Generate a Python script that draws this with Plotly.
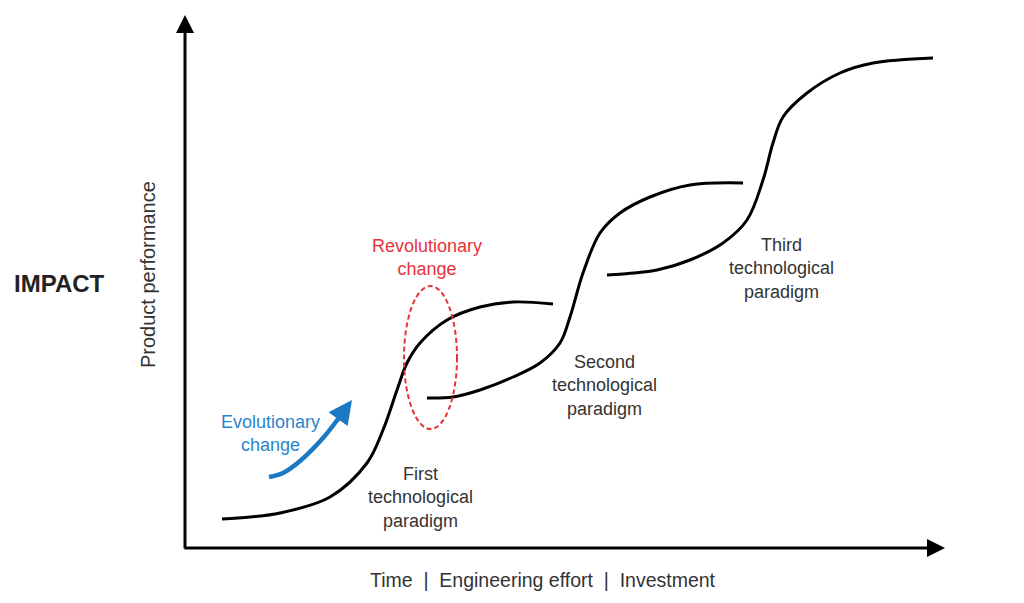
import plotly.graph_objects as go

# ---------------------------------------------------------------------------
# Data (x: effort units from the origin, y: performance units from the origin)
# ---------------------------------------------------------------------------
first_x = [37, 65, 95, 145, 182, 198, 212, 222, 235, 262, 295, 328, 368]
first_y = [29, 31, 35, 51, 85, 118, 158, 185, 205, 228, 241, 246, 244]

second_x = [242, 268, 295, 328, 355, 375, 385, 398, 415, 435, 465, 505, 558]
second_y = [150, 151, 158, 171, 185, 205, 231, 275, 315, 335, 351, 363, 365]

third_x = [422, 472, 505, 538, 562, 578, 588, 598, 622, 655, 688, 748]
third_y = [273, 278, 288, 305, 328, 368, 405, 431, 455, 475, 485, 490]

evo_x = [84, 98, 115, 138, 153]
evo_y = [71, 75, 87, 110, 129]

X_MAX = 760
Y_MAX = 533

FONT = "Liberation Sans, Arial, sans-serif"
TEXT = "#333333"
RED = "#e8323a"
BLUE = "#1b78c2"
BLUE_TEXT = "#2b85cc"


def px(x, y):
    """Data units -> paper coords (plot area is X_MAX x Y_MAX)."""
    return x / X_MAX, y / Y_MAX


fig = go.Figure()

for xs, ys in [(first_x, first_y), (second_x, second_y), (third_x, third_y)]:
    fig.add_trace(
        go.Scatter(
            x=xs,
            y=ys,
            mode="lines",
            line={"color": "black", "width": 3, "shape": "spline", "smoothing": 1.0},
            showlegend=False,
            hoverinfo="skip",
        )
    )

# Evolutionary change arrow (shaft)
fig.add_trace(
    go.Scatter(
        x=evo_x,
        y=evo_y,
        mode="lines",
        line={"color": BLUE, "width": 4.5, "shape": "spline", "smoothing": 1.0},
        showlegend=False,
        hoverinfo="skip",
    )
)

# Revolutionary change ellipse
fig.add_shape(
    type="circle",
    xref="x",
    yref="y",
    x0=219,
    x1=272,
    y0=119,
    y1=262,
    line={"color": RED, "width": 2, "dash": "5px,3px"},
)


def label(x, y, text, size=18, color=TEXT, **kw):
    xp, yp = px(x, y)
    return dict(x=xp, y=yp, xref="paper", yref="paper", text=text, showarrow=False,
                xanchor="center", yanchor="middle",
                font={"size": size, "color": color}, **kw)


annotations = [
    # axes with arrow heads
    dict(x=0, y=Y_MAX, ax=0, ay=-2, axref="x", ayref="y", showarrow=True,
         arrowhead=2, arrowsize=1.2, arrowwidth=3, arrowcolor="black", text=""),
    dict(x=X_MAX, y=0, ax=-2, ay=0, axref="x", ayref="y", showarrow=True,
         arrowhead=2, arrowsize=1.2, arrowwidth=3, arrowcolor="black", text=""),
    # evolutionary arrow head
    dict(x=167, y=148, ax=151, ay=126, axref="x", ayref="y", showarrow=True,
         arrowhead=2, arrowsize=1.05, arrowwidth=4.5, arrowcolor=BLUE, text=""),
    # labels
    label(-125, 265, "<b>IMPACT</b>", size=24, color="#222222"),
    label(-37, 273, "Product performance", size=20, textangle=-90),
    label(358, -32, "Time  |  Engineering effort  |  Investment", size=19.5),
    label(242, 291, "Revolutionary<br>change", color=RED),
    label(85, 115, "Evolutionary<br>change", color=BLUE_TEXT),
    label(235, 51, "First<br>technological<br>paradigm"),
    label(419, 163, "Second<br>technological<br>paradigm"),
    label(596, 280, "Third<br>technological<br>paradigm"),
]

fig.update_layout(
    width=1024,
    height=603,
    # page body adds ~8px offset, so shift the plot area back to match
    margin={"l": 177, "r": 87, "t": 7, "b": 63, "autoexpand": False},
    paper_bgcolor="white",
    plot_bgcolor="white",
    font={"family": FONT, "color": TEXT},
    annotations=annotations,
    xaxis={"range": [0, X_MAX], "visible": False, "fixedrange": True},
    yaxis={"range": [0, Y_MAX], "visible": False, "fixedrange": True},
    showlegend=False,
)

fig.write_html("out.html")
